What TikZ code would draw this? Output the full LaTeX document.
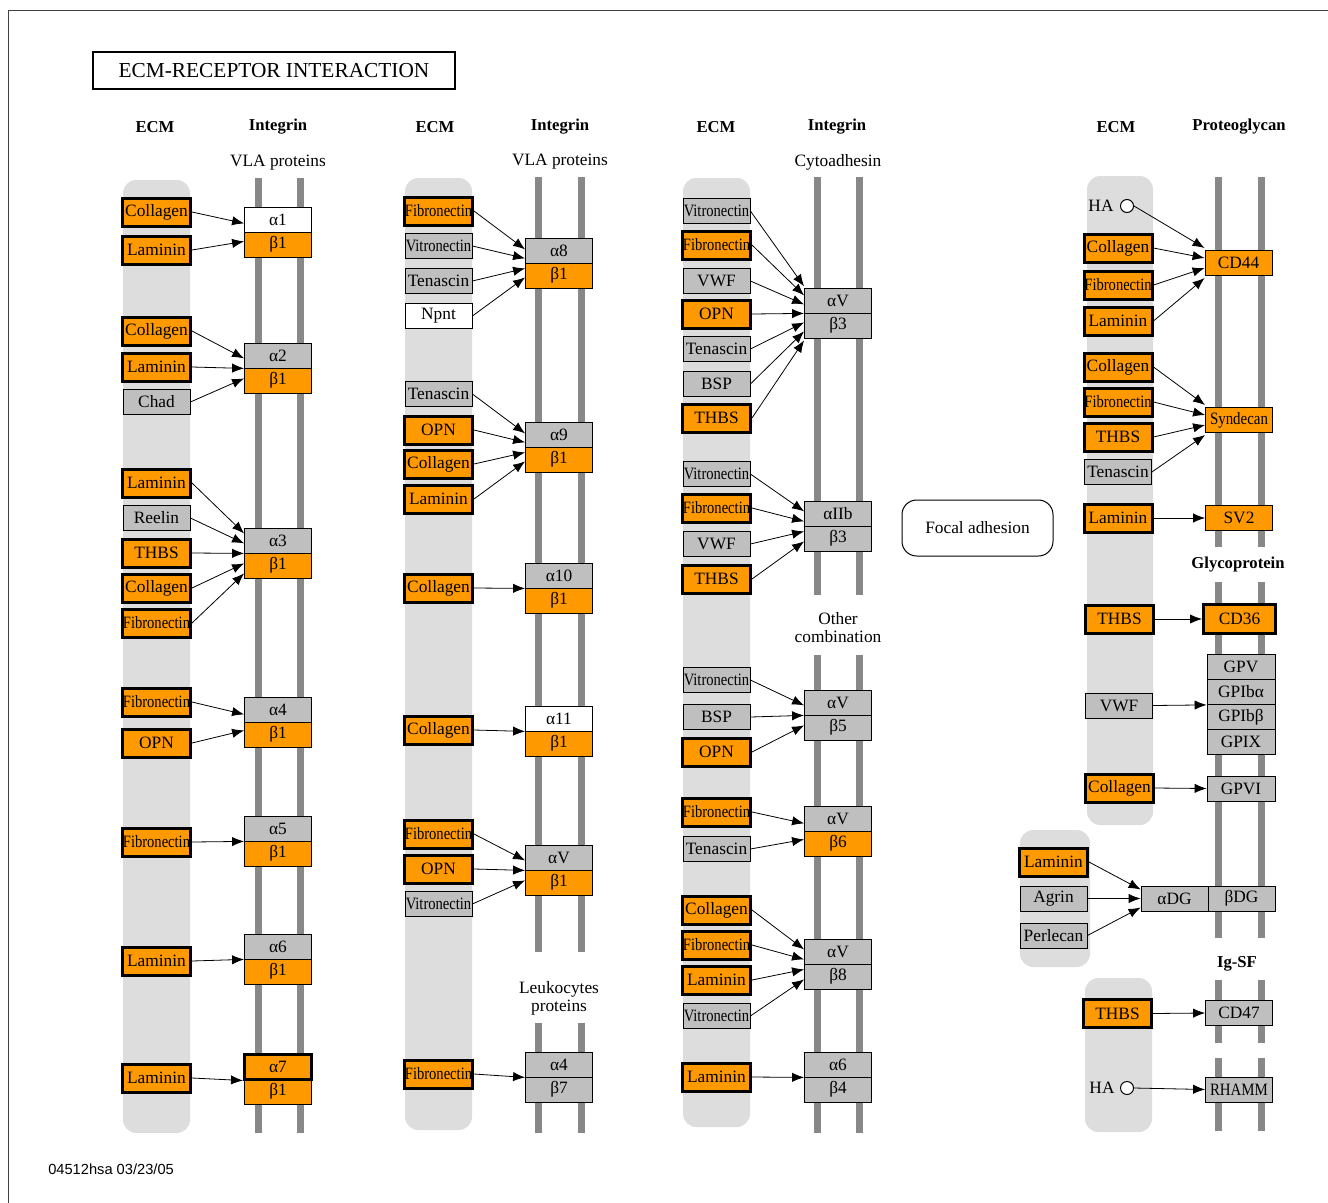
\documentclass[tikz,border=0pt]{standalone}
\usepackage{fontspec}
\usepackage{graphicx}
\setmainfont{Liberation Serif}
\newfontfamily\footsans{Liberation Sans}
\usetikzlibrary{arrows.meta,calc}
\definecolor{kor}{HTML}{FF9900}
\definecolor{kgr}{RGB}{191,191,191}
\definecolor{kband}{RGB}{221,221,221}
\definecolor{kbar}{RGB}{136,136,136}
\newcommand{\sqz}[2][0.84]{\scalebox{#1}[1]{#2}}
\newcommand{\myarr}[3]{\draw[arr] (#1.east) -- ($(#2.south west)+(0,#3)$);}
\newcommand{\myarrc}[3]{\draw[arr] (#1.east) -- ($(#2.west)+(0,#3)$);}
\begin{document}
\begin{tikzpicture}[x=0.75pt,y=-0.75pt,
  lbl/.style={font=\fontsize{13}{14}\selectfont},
  box/.style={lbl, draw=black, line width=0.6pt, minimum width=50.25pt, minimum height=18.75pt, inner sep=0pt},
  ecmO/.style={box, fill=kor, line width=2.25pt, minimum width=51pt, minimum height=21pt},
  ecmG/.style={box, fill=kgr},
  ecmW/.style={box, fill=white},
  intO/.style={box, fill=kor},
  intG/.style={box, fill=kgr},
  intW/.style={box, fill=white},
  hdr/.style={font=\bfseries\fontsize{12.5}{14}\selectfont},
  sub/.style={font=\fontsize{13}{13.5}\selectfont, align=center},
  arr/.style={-{Latex[length=9pt,width=7pt]}, line width=0.6pt},
  band/.style={fill=kband, rounded corners=10pt},
  bar/.style={draw=kbar, line width=5.25pt},
  hacirc/.style={circle, draw=black, fill=white, line width=0.75pt, minimum size=9.75pt, inner sep=0pt},
]
\useasboundingbox (0,0) rectangle (1328,1203);
\fill[white] (0,0) rectangle (1328,1203);
\draw[line width=0.75pt, black!75] (8,1203) -- (8,10) -- (1328,10);

% title
\node[draw=black, line width=1.5pt, minimum width=271.5pt, minimum height=27.75pt, inner sep=0pt, font=\fontsize{16}{18}\selectfont] (title) at (274,70.5) {ECM-RECEPTOR INTERACTION};

% bands
\path[band] (123,180) rectangle (190,1133);
\path[band] (405,178) rectangle (472,1130);
\path[band] (683,178) rectangle (750,1127);
\path[band] (1087,176) rectangle (1153,825);
\path[band] (1020,830) rectangle (1090,967);
\path[band] (1085,978) rectangle (1152,1132);

% bars
\foreach \xx in {258,300} {\draw[bar] (\xx,178) -- (\xx,1133);}
\foreach \xx in {538,581} {\draw[bar] (\xx,177) -- (\xx,952); \draw[bar] (\xx,1023) -- (\xx,1133);}
\foreach \xx in {817,859} {\draw[bar] (\xx,177) -- (\xx,595); \draw[bar] (\xx,655) -- (\xx,1133);}
\foreach \xx in {1218,1261} {\draw[bar] (\xx,177) -- (\xx,547); \draw[bar] (\xx,582) -- (\xx,938); \draw[bar] (\xx,980) -- (\xx,1043); \draw[bar] (\xx,1058) -- (\xx,1131);}

% headers
\node[hdr] (h1) at (155,127) {ECM};
\node[hdr] (h2) at (278,127) {Integrin};
\node[hdr] (h3) at (435,127) {ECM};
\node[hdr] (h4) at (560,127) {Integrin};
\node[hdr] (h5) at (716,127) {ECM};
\node[hdr] (h6) at (837,127) {Integrin};
\node[hdr] (h7) at (1116,127) {ECM};
\node[hdr] (h8) at (1239,127) {Proteoglycan};
\node[hdr] (h9) at (1238,565) {Glycoprotein};
\node[hdr] (h10) at (1237,964) {Ig-SF};
\node[sub] (s1) at (278,163) {VLA proteins};
\node[sub] (s2) at (560,162) {VLA proteins};
\node[sub] (s3) at (838,162) {Cytoadhesin};
\node[sub] (s4) at (838,628) {Other\\combination};
\node[sub] (s5) at (559,998) {Leukocytes\\proteins};

% ===== column 1 =====
\node[ecmO] (e1a) at (156.5,212) {Collagen};
\node[ecmO] (e1b) at (156.5,250) {Laminin};
\node[intW] (i1a) at (278,219.5) {α1};
\node[intO] (i1b) at (278,244.5) {β1};
\myarr{e1a}{i1a}{-9} \myarr{e1b}{i1a}{9}

\node[ecmO] (e2a) at (156.5,331) {Collagen};
\node[ecmO] (e2b) at (156.5,367) {Laminin};
\node[ecmG] (e2c) at (156.5,402) {Chad};
\node[intG] (i2a) at (278,355.5) {α2};
\node[intO] (i2b) at (278,380.5) {β1};
\myarr{e2a}{i2a}{-10} \myarr{e2b}{i2a}{0} \myarr{e2c}{i2a}{10}

\node[ecmO] (e3a) at (156.5,483) {Laminin};
\node[ecmG] (e3b) at (156.5,518) {Reelin};
\node[ecmO] (e3c) at (156.5,553) {THBS};
\node[ecmO] (e3d) at (156.5,588) {Collagen};
\node[ecmO] (e3e) at (156.5,623) {\sqz{Fibronectin}};
\node[intG] (i3a) at (278,540.5) {α3};
\node[intO] (i3b) at (278,565.5) {β1};
\myarr{e3a}{i3a}{-20} \myarr{e3b}{i3a}{-10} \myarr{e3c}{i3a}{0} \myarr{e3d}{i3a}{10} \myarr{e3e}{i3a}{20}

\node[ecmO] (e4a) at (156.5,702) {\sqz{Fibronectin}};
\node[ecmO] (e4b) at (156.5,743) {OPN};
\node[intG] (i4a) at (278,709.5) {α4};
\node[intO] (i4b) at (278,734.5) {β1};
\myarr{e4a}{i4a}{-8} \myarr{e4b}{i4a}{8}

\node[ecmO] (e5a) at (156.5,842) {\sqz{Fibronectin}};
\node[intG] (i5a) at (278,828.5) {α5};
\node[intO] (i5b) at (278,853.5) {β1};
\myarr{e5a}{i5a}{0}

\node[ecmO] (e6a) at (156.5,961) {Laminin};
\node[intG] (i6a) at (278,946.5) {α6};
\node[intO] (i6b) at (278,971.5) {β1};
\myarr{e6a}{i6a}{0}

\node[ecmO] (e7a) at (156.5,1078) {Laminin};
\node[intO] (i7b) at (278,1091.5) {β1};
\node[intO, line width=2.25pt] (i7a) at (278,1066.5) {α7};
\myarr{e7a}{i7a}{0}

% ===== column 2 =====
\node[ecmO] (f1a) at (438.5,211) {\sqz{Fibronectin}};
\node[ecmG] (f1b) at (438.5,246) {\sqz{Vitronectin}};
\node[ecmG] (f1c) at (438.5,281) {Tenascin};
\node[ecmW] (f1d) at (438.5,316) {Npnt};
\node[intG] (j1a) at (559,250.5) {α8};
\node[intO] (j1b) at (559,275.5) {β1};
\myarr{f1a}{j1a}{-14} \myarr{f1b}{j1a}{-5} \myarr{f1c}{j1a}{5} \myarr{f1d}{j1a}{14}

\node[ecmG] (f2a) at (438.5,394) {Tenascin};
\node[ecmO] (f2b) at (438.5,430) {OPN};
\node[ecmO] (f2c) at (438.5,464) {Collagen};
\node[ecmO] (f2d) at (438.5,499) {Laminin};
\node[intG] (j2a) at (559,434.5) {α9};
\node[intO] (j2b) at (559,459.5) {β1};
\myarr{f2a}{j2a}{-14} \myarr{f2b}{j2a}{-5} \myarr{f2c}{j2a}{5} \myarr{f2d}{j2a}{14}

\node[ecmO] (f3a) at (438.5,588) {Collagen};
\node[intG] (j3a) at (559,575.5) {α10};
\node[intO] (j3b) at (559,600.5) {β1};
\myarr{f3a}{j3a}{0}

\node[ecmO] (f4a) at (438.5,730) {Collagen};
\node[intW] (j4a) at (559,718.5) {α11};
\node[intO] (j4b) at (559,743.5) {β1};
\myarr{f4a}{j4a}{0}

\node[ecmO] (f5a) at (438.5,834) {\sqz{Fibronectin}};
\node[ecmO] (f5b) at (438.5,869) {OPN};
\node[ecmG] (f5c) at (438.5,904) {\sqz{Vitronectin}};
\node[intG] (j5a) at (559,857.5) {αV};
\node[intO] (j5b) at (559,882.5) {β1};
\myarr{f5a}{j5a}{-10} \myarr{f5b}{j5a}{0} \myarr{f5c}{j5a}{10}

\node[ecmO] (f6a) at (438.5,1074) {\sqz{Fibronectin}};
\node[intG] (j6a) at (559,1064.5) {α4};
\node[intG] (j6b) at (559,1089.5) {β7};
\myarr{f6a}{j6a}{0}

% ===== column 3 =====
\node[ecmG] (g1a) at (716.5,211) {\sqz{Vitronectin}};
\node[ecmO] (g1b) at (716.5,245) {\sqz{Fibronectin}};
\node[ecmG] (g1c) at (716.5,281) {VWF};
\node[ecmO] (g1d) at (716.5,314) {OPN};
\node[ecmG] (g1e) at (716.5,349) {Tenascin};
\node[ecmG] (g1f) at (716.5,384) {BSP};
\node[ecmO] (g1g) at (716.5,418) {THBS};
\node[intG] (k1a) at (838,300.5) {αV};
\node[intG] (k1b) at (838,325.5) {β3};
\myarr{g1a}{k1a}{-27} \myarr{g1b}{k1a}{-18} \myarr{g1c}{k1a}{-9} \myarr{g1d}{k1a}{0}
\myarr{g1e}{k1a}{9} \myarr{g1f}{k1a}{18} \myarr{g1g}{k1a}{27}

\node[ecmG] (g2a) at (716.5,474) {\sqz{Vitronectin}};
\node[ecmO] (g2b) at (716.5,508) {\sqz{Fibronectin}};
\node[ecmG] (g2c) at (716.5,544) {VWF};
\node[ecmO] (g2d) at (716.5,579) {THBS};
\node[intG] (k2a) at (838,513.5) {αIIb};
\node[intG] (k2b) at (838,538.5) {β3};
\myarr{g2a}{k2a}{-15} \myarr{g2b}{k2a}{-5} \myarr{g2c}{k2a}{5} \myarr{g2d}{k2a}{15}

\node[ecmG] (g3a) at (716.5,680) {\sqz{Vitronectin}};
\node[ecmG] (g3b) at (716.5,717) {BSP};
\node[ecmO] (g3c) at (716.5,752) {OPN};
\node[intG] (k3a) at (838,702.5) {αV};
\node[intG] (k3b) at (838,727.5) {β5};
\myarr{g3a}{k3a}{-10} \myarr{g3b}{k3a}{0} \myarr{g3c}{k3a}{10}

\node[ecmO] (g4a) at (716.5,812) {\sqz{Fibronectin}};
\node[ecmG] (g4b) at (716.5,849) {Tenascin};
\node[intG] (k4a) at (838,818.5) {αV};
\node[intO] (k4b) at (838,843.5) {β6};
\myarr{g4a}{k4a}{-8} \myarr{g4b}{k4a}{8}

\node[ecmO] (g5a) at (716.5,910) {Collagen};
\node[ecmO] (g5b) at (716.5,945) {\sqz{Fibronectin}};
\node[ecmO] (g5c) at (716.5,980) {Laminin};
\node[ecmG] (g5d) at (716.5,1016) {\sqz{Vitronectin}};
\node[intG] (k5a) at (838,951.5) {αV};
\node[intG] (k5b) at (838,976.5) {β8};
\myarr{g5a}{k5a}{-15} \myarr{g5b}{k5a}{-5} \myarr{g5c}{k5a}{5} \myarr{g5d}{k5a}{15}

\node[ecmO] (g6a) at (716.5,1077) {Laminin};
\node[intG] (k6a) at (838,1064.5) {α6};
\node[intG] (k6b) at (838,1089.5) {β4};
\myarr{g6a}{k6a}{0}

% focal adhesion
\node[draw=black, line width=0.75pt, rounded corners=11pt, minimum width=113.25pt, minimum height=42pt, inner sep=0pt, font=\fontsize{13}{15}\selectfont] (focal) at (977.5,528) {Focal adhesion};

% ===== column 4 =====
\node[hacirc] (ha1) at (1127,206) {};
\node[lbl] (hal1) at (1101,206) {HA};
\node[ecmO] (h1a) at (1118,248) {Collagen};
\node[ecmO] (h1b) at (1118,285) {\sqz{Fibronectin}};
\node[ecmO] (h1c) at (1118,321) {Laminin};
\node[intO] (cd44) at (1238.5,263) {CD44};
\myarrc{ha1}{cd44}{-15} \myarrc{h1a}{cd44}{-5} \myarrc{h1b}{cd44}{5} \myarrc{h1c}{cd44}{15}

\node[ecmO] (h2a) at (1118,367) {Collagen};
\node[ecmO] (h2b) at (1118,402) {\sqz{Fibronectin}};
\node[ecmO] (h2c) at (1118,437) {THBS};
\node[ecmG] (h2d) at (1118,472) {Tenascin};
\node[intO] (synd) at (1239,420) {\sqz[0.86]{Syndecan}};
\myarrc{h2a}{synd}{-15} \myarrc{h2b}{synd}{-5} \myarrc{h2c}{synd}{5} \myarrc{h2d}{synd}{15}

\node[ecmO] (h3a) at (1118,518) {Laminin};
\node[intO] (sv2) at (1239,518) {SV2};
\myarrc{h3a}{sv2}{0}

\node[ecmO] (h4a) at (1119.5,619) {THBS};
\node[intO, line width=2.25pt, minimum width=54pt, minimum height=21.75pt] (cd36) at (1239.5,619) {CD36};
\myarrc{h4a}{cd36}{0}

\node[ecmG] (h5a) at (1119,705.5) {VWF};
\node[intG, minimum width=51pt] (gp1) at (1241,667) {GPV};
\node[intG, minimum width=51pt] (gp2) at (1241,692) {GPIbα};
\node[intG, minimum width=51pt] (gp3) at (1241,717) {GPIbβ};
\node[intG, minimum width=51pt] (gp4) at (1241,742) {GPIX};
\myarr{h5a}{gp2}{0}

\node[ecmO] (h6a) at (1119.5,788) {Collagen};
\node[intG, minimum width=51pt] (gpvi) at (1241,788.5) {GPVI};
\myarrc{h6a}{gpvi}{0}

\node[ecmO] (h7a) at (1053.5,862) {Laminin};
\node[ecmG] (h7b) at (1053.5,898.5) {Agrin};
\node[ecmG] (h7c) at (1053.5,935.5) {Perlecan};
\node[intG] (adg) at (1174.5,898.5) {αDG};
\node[intG] (bdg) at (1241.5,898.5) {βDG};
\myarrc{h7a}{adg}{-9} \myarrc{h7b}{adg}{0} \myarrc{h7c}{adg}{9}

\node[ecmO] (h8a) at (1117.5,1013.5) {THBS};
\node[intG] (cd47) at (1239,1013) {CD47};
\myarrc{h8a}{cd47}{0}

\node[hacirc] (ha2) at (1127,1088) {};
\node[lbl] (hal2) at (1102,1088) {HA};
\node[intG] (rhamm) at (1239,1089.5) {\sqz[0.86]{RHAMM}};
\myarrc{ha2}{rhamm}{0}

% footer
\node[anchor=west, font=\footsans\fontsize{11}{13}\selectfont, inner sep=0pt] (foot) at (48,1169) {04512hsa 03/23/05};
\end{tikzpicture}
\end{document}
